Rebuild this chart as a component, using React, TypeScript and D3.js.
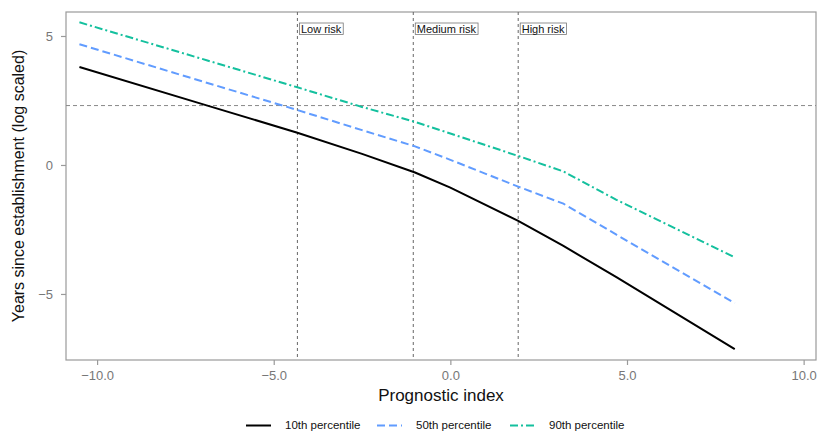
import React, { useEffect, useRef } from "react";
import * as d3 from "d3";

const prognosticIndex = [-10.5, -6.9, -4.33, -2.5, -1, 0, 1.92, 3.2, 4.7, 8.05];
const p10 = [3.8, 2.31, 1.25, 0.43, -0.29, -0.88, -2.17, -3.14, -4.35, -7.14];
const p50 = [4.68, 3.19, 2.13, 1.35, 0.72, 0.2, -0.84, -1.5, -2.7, -5.36];
const p90 = [5.53, 4.06, 3.01, 2.25, 1.67, 1.22, 0.35, -0.25, -1.35, -3.58];

const riskCuts = [-4.33, -1.05, 1.92];
const riskLabels = ["Low risk", "Medium risk", "High risk"];
const refLine = Math.log(10);

const xTicks = [-10, -5, 0, 5, 10];
const yTicks = [5, 0, -5];

const seriesNames = ["10th percentile", "50th percentile", "90th percentile"];
const seriesColors = ["#000000", "#619CFF", "#14C09E"];
const seriesDash = ["", "8,4", "8,3,2,3"];

const W = 819;
const H = 432;
const left = 66;
const right = 816;
const top = 12;
const bottom = 360;

export default function App() {
  const ref = useRef<SVGSVGElement>(null);

  useEffect(() => {
    document.body.style.margin = "0";
    const svg = d3.select(ref.current);
    svg.selectAll("*").remove();
    const font = "Liberation Sans, Arial, sans-serif";

    const x = d3.scaleLinear().domain([-10.88, 10.35]).range([left, right]);
    const y = d3.scaleLinear().domain([-7.56, 5.93]).range([bottom, top]);

    // panel border
    svg
      .append("rect")
      .attr("x", left)
      .attr("y", top)
      .attr("width", right - left)
      .attr("height", bottom - top)
      .attr("fill", "none")
      .attr("stroke", "#9a9a9a")
      .attr("stroke-width", 1.2);

    // axes
    const xAxis = svg
      .append("g")
      .attr("transform", "translate(0," + bottom + ")")
      .call(d3.axisBottom(x).tickValues(xTicks).tickFormat(d3.format(".1f")).tickSize(5).tickPadding(6));
    const yAxis = svg
      .append("g")
      .attr("transform", "translate(" + left + ",0)")
      .call(d3.axisLeft(y).tickValues(yTicks).tickFormat(d3.format("d")).tickSize(5).tickPadding(8));
    [xAxis, yAxis].forEach((g) => {
      g.select(".domain").remove();
      g.selectAll("line").attr("stroke", "#9a9a9a").attr("stroke-width", 1.2);
      g.selectAll("text").attr("fill", "#777").attr("font-size", 13).attr("font-family", font);
    });

    // reference lines
    svg
      .append("line")
      .attr("x1", left)
      .attr("x2", right)
      .attr("y1", y(refLine))
      .attr("y2", y(refLine))
      .attr("stroke", "#888")
      .attr("stroke-dasharray", "4,3");

    riskCuts.forEach((c, i) => {
      svg
        .append("line")
        .attr("x1", x(c))
        .attr("x2", x(c))
        .attr("y1", top)
        .attr("y2", bottom)
        .attr("stroke", "#666")
        .attr("stroke-dasharray", "3,3");
      const box = svg
        .append("rect")
        .attr("x", x(c) + 2)
        .attr("y", 23)
        .attr("height", 11.5)
        .attr("fill", "white")
        .attr("stroke", "#777")
        .attr("stroke-width", 0.8);
      const t = svg
        .append("text")
        .attr("x", x(c) + 3.5)
        .attr("y", 32.5)
        .attr("font-size", 11)
        .attr("font-family", font)
        .attr("fill", "#111")
        .text(riskLabels[i]);
      const bb = (t.node() as SVGTextElement).getBBox();
      box.attr("width", bb.width + 3);
    });

    const line = d3
      .line<number>()
      .x((_, i) => x(prognosticIndex[i]))
      .y((d) => y(d));

    [p10, p50, p90].forEach((s, i) => {
      svg
        .append("path")
        .attr("d", line(s))
        .attr("fill", "none")
        .attr("stroke", seriesColors[i])
        .attr("stroke-width", 2)
        .attr("stroke-dasharray", seriesDash[i]);
    });

    // titles
    svg
      .append("text")
      .attr("x", 441)
      .attr("y", 401)
      .attr("text-anchor", "middle")
      .attr("font-size", 17)
      .attr("font-family", font)
      .attr("fill", "#111")
      .text("Prognostic index");
    svg
      .append("text")
      .attr("transform", "translate(24," + (top + bottom) / 2 + ") rotate(-90)")
      .attr("text-anchor", "middle")
      .attr("font-size", 16)
      .attr("font-family", font)
      .attr("fill", "#111")
      .text("Years since establishment (log scaled)");

    // legend
    const legendX = [246, 377, 510];
    seriesNames.forEach((n, i) => {
      const g = svg.append("g").attr("transform", "translate(" + legendX[i] + ",425.5)");
      g.append("line")
        .attr("x1", 0)
        .attr("x2", 25)
        .attr("stroke", seriesColors[i])
        .attr("stroke-width", 2)
        .attr("stroke-dasharray", seriesDash[i]);
      g.append("text")
        .attr("x", 39)
        .attr("y", 3.5)
        .attr("font-size", 11.5)
        .attr("font-family", font)
        .attr("fill", "#111")
        .text(n);
    });
  }, []);

  return <svg ref={ref} width={W} height={H} style={{ display: "block" }} />;
}
